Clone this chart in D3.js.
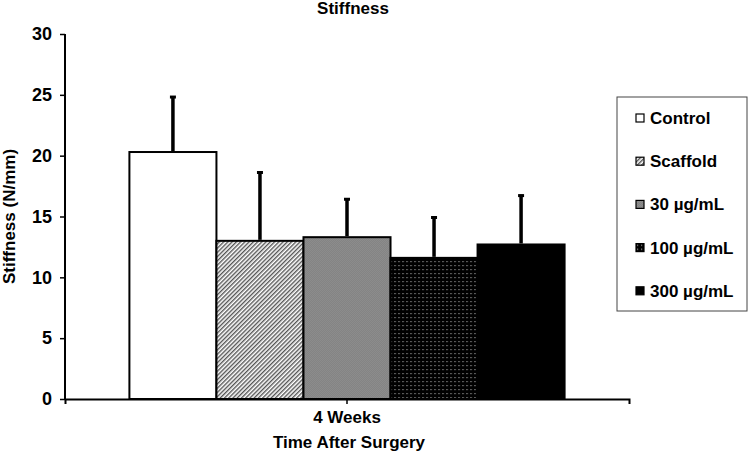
<!DOCTYPE html>
<html>
<head>
<meta charset="utf-8">
<script src="https://cdn.jsdelivr.net/npm/d3@7"></script>
<style>
  body { margin: 0; background: #fff; }
  text { font-family: "Liberation Sans", Arial, sans-serif; font-weight: bold; fill: #000; }
</style>
</head>
<body>
<div id="chart"></div>
<script>
const groups = ["4 Weeks"];
const series = ["Control", "Scaffold", "30 µg/mL", "100 µg/mL", "300 µg/mL"];
const means = [20.3, 13.0, 13.3, 11.6, 12.7];
const errors = [4.6, 5.7, 3.2, 3.4, 4.1];
const yTicks = [0, 5, 10, 15, 20, 25, 30];

const width = 750, height = 457;
const margin = { left: 65, right: 121, top: 34, bottom: 58 };
const font = "'Liberation Sans', Arial, sans-serif";

const svg = d3.select("#chart").append("svg")
    .attr("width", width)
    .attr("height", height);

// fill patterns
const defs = svg.append("defs");

const hatch = defs.append("pattern")
    .attr("id", "hatch")
    .attr("patternUnits", "userSpaceOnUse")
    .attr("width", 3).attr("height", 3)
    .attr("patternTransform", "rotate(45)");
hatch.append("rect").attr("width", 3).attr("height", 3).attr("fill", "#fff");
hatch.append("rect").attr("width", 1.4).attr("height", 3).attr("fill", "#555");

const checker = defs.append("pattern")
    .attr("id", "checker")
    .attr("patternUnits", "userSpaceOnUse")
    .attr("width", 2).attr("height", 2);
checker.append("rect").attr("width", 2).attr("height", 2).attr("fill", "#a0a0a0");
checker.append("rect").attr("width", 1).attr("height", 1).attr("fill", "#707070");
checker.append("rect").attr("x", 1).attr("y", 1).attr("width", 1).attr("height", 1).attr("fill", "#707070");

const dots = defs.append("pattern")
    .attr("id", "dots")
    .attr("patternUnits", "userSpaceOnUse")
    .attr("width", 4).attr("height", 4);
dots.append("rect").attr("width", 4).attr("height", 4).attr("fill", "#000");
dots.append("rect").attr("x", 1).attr("y", 1).attr("width", 1.2).attr("height", 1.2).attr("fill", "#999");

const fills = ["#fff", "url(#hatch)", "url(#checker)", "url(#dots)", "#000"];

// scales
const x0 = d3.scaleBand()
    .domain(groups)
    .range([margin.left, width - margin.right])
    .paddingInner(0)
    .paddingOuter(0.148);

const x1 = d3.scaleBand()
    .domain(series)
    .range([0, x0.bandwidth()]);

const y = d3.scaleLinear()
    .domain([0, 30])
    .range([height - margin.bottom, margin.top]);

// title
svg.append("text")
    .attr("x", 353).attr("y", 14)
    .attr("text-anchor", "middle")
    .style("font-size", "17px")
    .text("Stiffness");

// bars
const g = svg.append("g")
    .attr("transform", `translate(${x0(groups[0])},0)`);

g.selectAll(".bar")
    .data(series)
    .enter()
    .append("rect")
    .attr("class", "bar")
    .attr("x", d => x1(d))
    .attr("y", (d, i) => y(means[i]))
    .attr("width", x1.bandwidth())
    .attr("height", (d, i) => y(0) - y(means[i]))
    .attr("fill", (d, i) => fills[i])
    .attr("stroke", "#000")
    .attr("stroke-width", 2);

// error bars (upper only)
g.selectAll(".err")
    .data(series)
    .enter()
    .append("line")
    .attr("class", "err")
    .attr("x1", d => x1(d) + x1.bandwidth() / 2)
    .attr("x2", d => x1(d) + x1.bandwidth() / 2)
    .attr("y1", (d, i) => y(means[i]) - 1)
    .attr("y2", (d, i) => y(means[i] + errors[i]))
    .attr("stroke", "#000")
    .attr("stroke-width", 3.5);

g.selectAll(".cap")
    .data(series)
    .enter()
    .append("line")
    .attr("class", "cap")
    .attr("x1", d => x1(d) + x1.bandwidth() / 2 - 3)
    .attr("x2", d => x1(d) + x1.bandwidth() / 2 + 3)
    .attr("y1", (d, i) => y(means[i] + errors[i]) + 1)
    .attr("y2", (d, i) => y(means[i] + errors[i]) + 1)
    .attr("stroke", "#000")
    .attr("stroke-width", 3);

// y axis
const yAxis = d3.axisLeft(y).tickValues(yTicks).tickSize(5).tickPadding(8);
const yAxisGroup = svg.append("g")
    .attr("transform", `translate(${margin.left},0)`)
    .call(yAxis);
yAxisGroup.select(".domain").attr("stroke", "#000").attr("stroke-width", 2).attr("d", `M0,${y(30)}V${y(0)}`);
yAxisGroup.selectAll(".tick line").attr("stroke", "#000").attr("stroke-width", 1.5);
yAxisGroup.selectAll(".tick text")
    .style("font-size", "18px")
    .style("font-family", font)
    .style("font-weight", "bold");

// x axis
const xAxis = d3.axisBottom(x0).tickSize(5).tickSizeOuter(5).tickPadding(7);
const xAxisGroup = svg.append("g")
    .attr("transform", `translate(0,${y(0)})`)
    .call(xAxis);
xAxisGroup.select(".domain").attr("stroke", "#000").attr("stroke-width", 2);
xAxisGroup.selectAll(".tick line").attr("stroke", "#000").attr("stroke-width", 1.5);
xAxisGroup.selectAll(".tick text")
    .style("font-size", "17px")
    .style("font-family", font)
    .style("font-weight", "bold");

// axis titles
svg.append("text")
    .attr("transform", `translate(15,${(y(0) + y(30)) / 2}) rotate(-90)`)
    .attr("text-anchor", "middle")
    .style("font-size", "17px")
    .text("Stiffness (N/mm)");

svg.append("text")
    .attr("x", x0(groups[0]) + x0.bandwidth() / 2 + 2)
    .attr("y", 448)
    .attr("text-anchor", "middle")
    .style("font-size", "17px")
    .text("Time After Surgery");

// legend
const legend = svg.append("g").attr("transform", "translate(617,97)");
legend.append("rect")
    .attr("width", 130).attr("height", 214)
    .attr("fill", "#fff")
    .attr("stroke", "#444")
    .attr("stroke-width", 1);

const item = legend.selectAll(".item")
    .data(series)
    .enter()
    .append("g")
    .attr("class", "item")
    .attr("transform", (d, i) => `translate(19,${21 + i * 43.2})`);

item.append("rect")
    .attr("x", 0).attr("y", -4)
    .attr("width", 8).attr("height", 8)
    .attr("fill", (d, i) => fills[i])
    .attr("stroke", "#000")
    .attr("stroke-width", 1.2);

item.append("text")
    .attr("x", 14).attr("y", 6)
    .style("font-size", "17px")
    .text(d => d);
</script>
</body>
</html>
